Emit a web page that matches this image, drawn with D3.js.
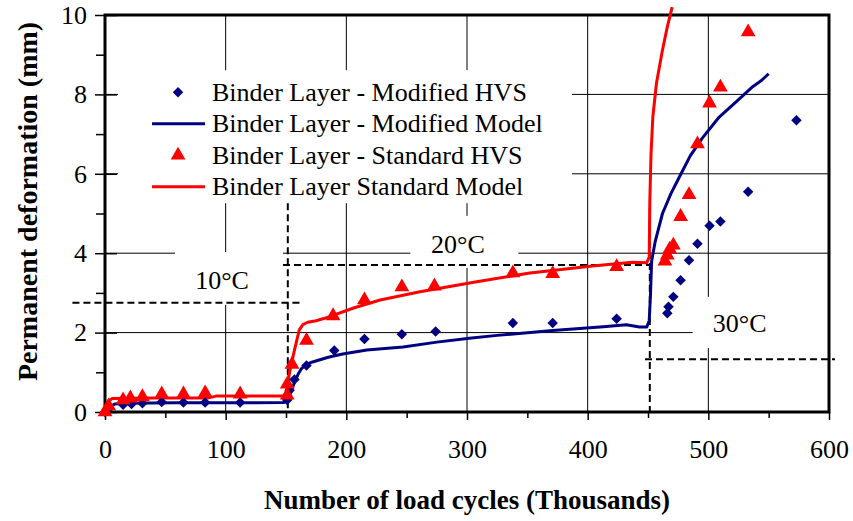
<!DOCTYPE html>
<html>
<head>
<meta charset="utf-8">
<script src="https://cdn.jsdelivr.net/npm/d3@7"></script>
<style>
  body { margin: 0; background: #fff; }
  svg { display: block; font-family: "Liberation Serif", "Times New Roman", serif; }
</style>
</head>
<body>
<svg width="853" height="521"></svg>
<script>
// Data (x = load cycles in thousands, y = deformation in mm)
const modifiedHVS = [
  [0, 0], [3, 0.08], [15, 0.18], [22, 0.2], [31, 0.22], [47, 0.25], [65, 0.24],
  [83, 0.24], [112, 0.24], [151, 0.3], [153, 0.55], [157, 0.82], [167, 1.17],
  [190, 1.55], [215, 1.84], [246, 1.96], [274, 2.03], [338, 2.24], [371, 2.24],
  [424, 2.35], [466, 2.49], [467, 2.65], [471, 2.9], [477, 3.32], [484, 3.82],
  [491, 4.24], [501, 4.69], [510, 4.8], [533, 5.55], [573, 7.35]
];

const modifiedModel = [
  [0, 0], [3, 0.12], [8, 0.2], [20, 0.22], [60, 0.23], [100, 0.23], [148, 0.24],
  [150, 0.26], [153, 0.4], [157, 0.75], [160, 0.95], [163, 1.1], [167, 1.2],
  [172, 1.26], [185, 1.38], [197, 1.46], [217, 1.56], [247, 1.64], [275, 1.76],
  [302, 1.86], [325, 1.93], [371, 2.05], [413, 2.15], [432, 2.2], [443, 2.14],
  [449, 2.14], [451, 2.3], [452, 2.9], [453, 3.8], [456, 4.3], [462, 5.0],
  [469, 5.5], [476, 5.92], [485, 6.45], [495, 6.9], [509, 7.43], [523, 7.81],
  [537, 8.2], [544, 8.35], [550, 8.52]
];

const standardHVS = [
  [0, 0], [3, 0.15], [15, 0.3], [21, 0.35], [31, 0.38], [47, 0.45], [65, 0.45],
  [83, 0.48], [112, 0.45], [151, 0.42], [151, 0.7], [155, 1.2], [167, 1.8],
  [189, 2.42], [215, 2.82], [246, 3.15], [273, 3.17], [338, 3.5], [371, 3.48],
  [424, 3.66], [464, 3.8], [466, 3.95], [468, 4.1], [471, 4.2], [477, 4.92],
  [484, 5.47], [491, 6.75], [501, 7.78], [510, 8.18], [533, 9.57]
];

const standardModel = [
  [0, 0], [3, 0.28], [6, 0.34], [40, 0.35], [85, 0.35], [92, 0.4], [148, 0.4],
  [150, 0.45], [153, 1.0], [157, 1.56], [161, 2.07], [164, 2.2], [168, 2.26],
  [175, 2.3], [182, 2.36], [206, 2.62], [228, 2.82], [261, 3.03], [308, 3.28],
  [352, 3.5], [404, 3.68], [437, 3.77], [449, 3.76], [451, 3.9], [451.5, 5.3],
  [452.5, 6.5], [454, 7.43], [457, 8.28], [462, 9.12], [466, 9.7], [470, 10.2]
];

const legendLabels = [
  "Binder Layer - Modified HVS",
  "Binder Layer - Modified Model",
  "Binder Layer - Standard HVS",
  "Binder Layer Standard Model"
];

// temperature zones: label text, label position, dashed outline
const tempLabels = [
  { text: "10°C", x: 97, y: 3.3, box: [58, 147.5, 2.7, 4.03] },
  { text: "20°C", x: 292.5, y: 4.23, box: [253, 342.5, 3.63, 4.94] },
  { text: "30°C", x: 526, y: 2.22, box: [487, 600, 1.61, 2.9] }
];
const dashedLines = [
  [[-27, 2.75], [161.5, 2.75]],
  [[151.5, 5.26], [151.5, 0]],
  [[147.5, 3.7], [451.5, 3.7]],
  [[451.5, 5.14], [451.5, 0]],
  [[447.5, 1.33], [605, 1.33]]
];
const legendBox = [10.8, 387, 5.26, 8.61];

const xTicks = [0, 100, 200, 300, 400, 500, 600];
const xMinor = [50, 150, 250, 350, 450, 550];
const yTicks = [0, 2, 4, 6, 8, 10];
const yMinor = [1, 3, 5, 7, 9];

const NAVY = "#000080";
const RED = "#ff0000";

const svg = d3.select("svg");
const margin = { top: 15, left: 105, right: 24, bottom: 109 };
const width = 853 - margin.left - margin.right;
const height = 521 - margin.top - margin.bottom;

const x = d3.scaleLinear().domain([0, 600]).range([margin.left, margin.left + width]);
const y = d3.scaleLinear().domain([0, 10]).range([margin.top + height, margin.top]);

// gridlines
svg.append("g")
  .selectAll("line")
  .data(yTicks.slice(1, -1))
  .join("line")
  .attr("x1", x(0)).attr("x2", x(600))
  .attr("y1", (d) => y(d)).attr("y2", (d) => y(d))
  .attr("stroke", "#000").attr("stroke-width", 1);

svg.append("g")
  .selectAll("line")
  .data(xTicks.slice(1, -1))
  .join("line")
  .attr("x1", (d) => x(d)).attr("x2", (d) => x(d))
  .attr("y1", y(0)).attr("y2", y(10))
  .attr("stroke", "#000").attr("stroke-width", 1);

// white boxes behind the text (they hide the gridlines)
const boxRect = (b) => ({ x: x(b[0]), y: y(b[3]), w: x(b[1]) - x(b[0]), h: y(b[2]) - y(b[3]) });
[legendBox].concat(tempLabels.map((d) => d.box)).forEach((b) => {
  const r = boxRect(b);
  svg.append("rect")
    .attr("x", r.x).attr("y", r.y)
    .attr("width", r.w).attr("height", r.h)
    .attr("fill", "#fff");
});

// axes
const axisFont = (g) => {
  g.selectAll("text")
    .attr("font-family", "Liberation Serif, serif")
    .attr("font-size", 26)
    .attr("fill", "#000");
  g.selectAll("line").attr("stroke", "#000").attr("stroke-width", 1.5);
  g.select(".domain").remove();
};

svg.append("g")
  .attr("transform", `translate(${x(0)},0)`)
  .call(d3.axisLeft(y).tickValues(yTicks).tickSize(10).tickPadding(8))
  .call(axisFont);
svg.append("g")
  .attr("transform", `translate(${x(0)},0)`)
  .call(d3.axisLeft(y).tickValues(yMinor).tickSize(9).tickFormat(""))
  .call(axisFont);
svg.append("g")
  .attr("transform", `translate(${x(0)},0)`)
  .call(d3.axisRight(y).tickValues(yTicks).tickSize(12).tickFormat(""))
  .call(axisFont);

svg.append("g")
  .attr("transform", `translate(0,${y(0)})`)
  .call(d3.axisBottom(x).tickValues(xTicks).tickSize(8).tickPadding(20))
  .call(axisFont);
svg.append("g")
  .attr("transform", `translate(0,${y(0)})`)
  .call(d3.axisBottom(x).tickValues(xMinor).tickSize(6).tickFormat(""))
  .call(axisFont);

// frame
svg.append("rect")
  .attr("x", x(0)).attr("y", y(10))
  .attr("width", x(600) - x(0)).attr("height", y(0) - y(10))
  .attr("fill", "none").attr("stroke", "#000").attr("stroke-width", 3);

// dashed temperature zones
svg.append("g")
  .selectAll("path")
  .data(dashedLines)
  .join("path")
  .attr("d", (d) => d3.line().x((p) => x(p[0])).y((p) => y(p[1]))(d))
  .attr("fill", "none")
  .attr("stroke", "#000")
  .attr("stroke-width", 2)
  .attr("stroke-dasharray", "7,4");

svg.append("g")
  .selectAll("text")
  .data(tempLabels)
  .join("text")
  .attr("x", (d) => x(d.x))
  .attr("y", (d) => y(d.y))
  .attr("text-anchor", "middle")
  .attr("dominant-baseline", "central")
  .attr("font-size", 26)
  .text((d) => d.text);

// model lines
const line = d3.line().x((d) => x(d[0])).y((d) => y(d[1]));
svg.append("path")
  .datum(modifiedModel)
  .attr("d", line)
  .attr("fill", "none").attr("stroke", NAVY)
  .attr("stroke-width", 3).attr("stroke-linejoin", "round");
svg.append("path")
  .datum(standardModel)
  .attr("d", line)
  .attr("fill", "none").attr("stroke", RED)
  .attr("stroke-width", 3).attr("stroke-linejoin", "round");

// HVS points
const diamond = d3.symbol().type(d3.symbolDiamond2).size(70);
const triangle = d3.symbol().type(d3.symbolTriangle).size(95);

svg.append("g")
  .selectAll("path")
  .data(modifiedHVS)
  .join("path")
  .attr("transform", (d) => `translate(${x(d[0])},${y(d[1])})`)
  .attr("d", diamond)
  .attr("fill", NAVY);

svg.append("g")
  .selectAll("path")
  .data(standardHVS)
  .join("path")
  .attr("transform", (d) => `translate(${x(d[0])},${y(d[1])})`)
  .attr("d", triangle)
  .attr("fill", RED);

// legend
const lb = boxRect(legendBox);
const legend = svg.append("g").attr("transform", `translate(${lb.x},${lb.y})`);
const legendItems = legendLabels.map((label, i) => ({
  label,
  color: i < 2 ? NAVY : RED,
  kind: i % 2 === 0 ? "point" : "line",
  symbol: i === 0 ? diamond : triangle
}));
const rows = legend.selectAll("g")
  .data(legendItems)
  .join("g")
  .attr("transform", (d, i) => `translate(0,${22 + i * 31.5})`);

rows.filter((d) => d.kind === "line")
  .append("line")
  .attr("x1", 34).attr("x2", 87)
  .attr("stroke", (d) => d.color)
  .attr("stroke-width", 3);
rows.filter((d) => d.kind === "point")
  .append("path")
  .attr("transform", "translate(60,0)")
  .attr("d", (d) => d.symbol())
  .attr("fill", (d) => d.color);
rows.append("text")
  .attr("x", 94)
  .attr("dominant-baseline", "central")
  .attr("font-size", 26)
  .text((d) => d.label);

// axis titles
svg.append("text")
  .attr("x", (x(0) + x(600)) / 2)
  .attr("y", 500)
  .attr("text-anchor", "middle")
  .attr("dominant-baseline", "central")
  .attr("font-size", 27)
  .attr("font-weight", "bold")
  .text("Number of load cycles (Thousands)");

svg.append("text")
  .attr("transform", `translate(27,${(y(0) + y(10)) / 2 - 12}) rotate(-90)`)
  .attr("text-anchor", "middle")
  .attr("dominant-baseline", "central")
  .attr("font-size", 28)
  .attr("font-weight", "bold")
  .text("Permanent deformation (mm)");
</script>
</body>
</html>
